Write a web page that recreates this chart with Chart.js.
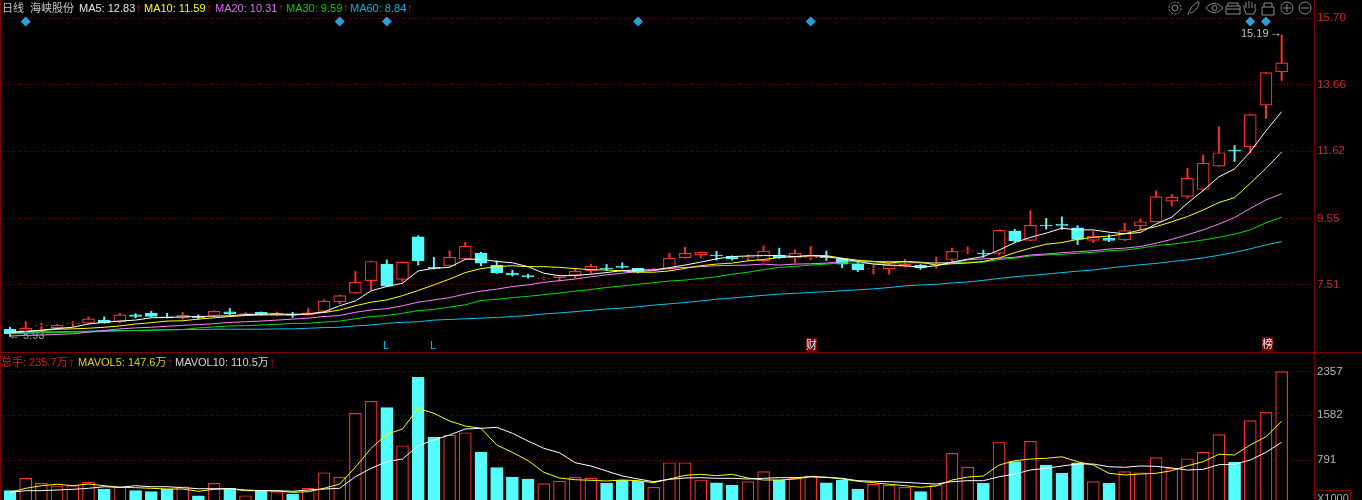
<!DOCTYPE html>
<html>
<head>
<meta charset="utf-8">
<title>海峡股份 日线</title>
<script src="https://cdn.jsdelivr.net/npm/chart.js@4/dist/chart.umd.min.js"></script>
<style>
html,body{margin:0;padding:0;background:#000;overflow:hidden}
#wrap{position:relative;width:1362px;height:500px;background:#000}
canvas{position:absolute;left:0}
.t{position:absolute;white-space:pre;font:11px/14px "Liberation Sans","Noto Sans CJK SC",sans-serif}
.up{position:absolute;left:100%;top:0;margin-left:0;color:#b01010;font-size:14px}
.line{position:absolute;background:#800000}
svg{position:absolute;left:1166px;top:0}
</style>
</head>
<body>
<div id="wrap">
<canvas id="priceChart" width="1362" height="352" style="top:0"></canvas>
<canvas id="volumeChart" width="1362" height="148" style="top:352px"></canvas>
<div class="line" style="left:0;top:0;width:1px;height:500px"></div>
<div class="line" style="left:0;top:352px;width:1362px;height:1px"></div>

<span class="t" style="left:2px;top:1px;color:#c8c8c8">日线  海峡股份</span>
<span class="t" style="left:79px;top:1px;color:#e8e8e8">MA5: 12.83<span class="up">↑</span></span>
<span class="t" style="left:144px;top:1px;color:#ffff00">MA10: 11.59<span class="up">↑</span></span>
<span class="t" style="left:215px;top:1px;color:#e070f0">MA20: 10.31<span class="up">↑</span></span>
<span class="t" style="left:286px;top:1px;color:#00d000">MA30: 9.59<span class="up">↑</span></span>
<span class="t" style="left:350px;top:1px;color:#00b8e0">MA60: 8.84<span class="up">↑</span></span>

<span class="t" style="left:1241px;top:26px;color:#c0c0c0">15.19</span>
<span class="t" style="left:1269px;top:26px;color:#c0c0c0;font-size:13px">→</span>
<span class="t" style="left:9px;top:328px;color:#a0a0a0">← 5.93</span>
<span class="t" style="left:383px;top:338px;color:#00c0f0">L</span>
<span class="t" style="left:430px;top:338px;color:#00c0f0">L</span>
<span class="t" style="left:806px;top:338px;color:#e8e8e8;background:#700000">财</span>
<span class="t" style="left:1262px;top:337px;color:#e8e8e8;background:#700000">榜</span>

<span class="t" style="left:1px;top:355px;color:#d02020">总手: 235.7万<span class="up">↑</span></span>
<span class="t" style="left:78px;top:355px;color:#d8d800">MAVOL5: 147.6万<span class="up">↑</span></span>
<span class="t" style="left:175px;top:355px;color:#d8d8d8">MAVOL10: 110.5万<span class="up">↑</span></span>
<span class="t" style="left:1315px;top:490px;padding:0 1px;border:1px solid #800000;color:#b0b0b0">X1000</span>

<svg width="150" height="18" fill="none" stroke="#8c8c8c" stroke-width="1">
  <circle cx="9" cy="8" r="3"/><circle cx="9" cy="8" r="6" stroke-dasharray="2.5 1.2"/>
  <path d="M22 15 C24 8 28 3 33 2 C33 7 29 12 24 13"/>
  <path d="M40 8 C44 2 52 2 57 8 C52 14 44 14 40 8Z"/><circle cx="48.5" cy="8" r="2.5"/>
  <path d="M60 6H74V14H60ZM62 6V3H72V6M60 9H74"/>
  <path d="M80 14L78 8V5M80 8V2M83 8V1M86 8V2M89 9V4M80 14H88L90 9"/>
  <path d="M96 7H108V15H96ZM98 7V3H106V7"/>
  <circle cx="121" cy="8" r="6"/><path d="M117 8H125M121 4V12"/>
  <circle cx="139" cy="8" r="6"/><path d="M135 8H143"/>
</svg>
</div>

<script>
const open = [
  6.15,6.08,6.26,6.19,6.31,6.34,6.43,6.38,6.59,6.64,
  6.53,6.50,6.52,6.57,6.68,6.59,6.67,6.58,6.62,6.60,
  6.70,6.99,7.26,7.64,8.15,7.68,8.99,8.05,8.10,8.30,
  8.48,8.11,7.87,7.80,7.70,7.73,7.80,7.95,8.03,8.08,
  8.02,7.98,8.00,8.35,8.43,8.43,8.39,8.35,8.25,8.43,
  8.33,8.35,8.37,8.31,8.15,8.00,8.00,8.08,8.12,8.12,
  8.29,8.54,8.49,8.48,9.16,8.88,9.35,9.37,9.26,8.88,
  8.94,8.89,9.32,9.45,10.08,10.23,10.44,11.16,11.65,11.75,
  13.03,14.05];
const close = [
  6.01,6.18,6.28,6.27,6.34,6.47,6.35,6.59,6.54,6.54,
  6.50,6.58,6.50,6.70,6.63,6.63,6.59,6.64,6.58,6.65,
  7.01,7.18,7.59,8.23,7.47,8.21,8.25,8.02,8.36,8.70,
  8.18,7.89,7.82,7.76,7.72,7.79,7.93,8.08,8.00,8.05,
  7.92,8.00,8.33,8.48,8.51,8.40,8.32,8.37,8.55,8.35,
  8.48,8.38,8.35,8.15,7.97,8.02,8.12,8.14,8.04,8.14,
  8.54,8.56,8.46,9.19,8.86,9.34,9.32,9.34,8.91,9.00,
  8.88,9.18,9.45,10.22,10.20,10.78,11.25,11.57,11.62,12.74,
  14.03,14.33];
const high = [
  6.21,6.38,6.34,6.30,6.38,6.53,6.53,6.64,6.63,6.70,
  6.64,6.67,6.59,6.72,6.79,6.67,6.68,6.68,6.67,6.80,
  7.05,7.20,7.92,8.24,8.28,8.22,9.02,8.36,8.56,8.82,
  8.51,8.25,7.96,7.84,7.74,7.80,8.01,8.15,8.14,8.19,
  8.03,8.02,8.48,8.67,8.52,8.54,8.40,8.43,8.71,8.64,
  8.59,8.69,8.55,8.33,8.20,8.12,8.14,8.30,8.14,8.37,
  8.64,8.68,8.58,9.20,9.22,9.79,9.55,9.60,9.33,9.15,
  9.05,9.40,9.53,10.40,10.29,11.09,11.50,12.37,11.79,12.75,
  14.04,15.19];
const low = [
  5.93,6.08,6.13,6.19,6.23,6.31,6.33,6.35,6.50,6.52,
  6.50,6.46,6.46,6.55,6.59,6.57,6.58,6.57,6.51,6.58,
  6.68,6.93,7.25,7.36,7.46,7.60,8.12,8.00,8.08,8.28,
  8.10,7.86,7.78,7.72,7.68,7.63,7.73,7.87,7.95,8.02,
  7.88,7.96,7.98,8.33,8.35,8.27,8.27,8.26,8.22,8.32,
  8.19,8.28,8.26,8.04,7.92,7.85,7.84,8.06,7.99,8.02,
  8.21,8.47,8.36,8.43,8.82,8.87,9.22,9.22,8.75,8.81,
  8.84,8.87,9.18,9.44,9.94,10.17,10.40,11.15,11.30,11.56,
  12.62,13.79];
const ma5 = [
  6.05,6.08,6.12,6.17,6.21,6.31,6.36,6.40,6.43,6.50,
  6.51,6.53,6.54,6.55,6.56,6.60,6.61,6.62,6.60,6.62,
  6.68,6.87,7.02,7.33,7.46,7.56,7.94,8.02,8.05,8.30,
  8.30,8.23,8.19,8.07,7.87,7.79,7.80,7.84,7.89,7.95,
  7.97,7.97,8.04,8.12,8.21,8.31,8.38,8.40,8.41,8.41,
  8.38,8.41,8.38,8.31,8.23,8.15,8.12,8.10,8.05,8.10,
  8.21,8.30,8.38,8.58,8.81,8.97,9.10,9.25,9.20,9.20,
  9.13,9.08,9.12,9.38,9.59,10.02,10.41,10.83,11.07,11.60,
  12.24,12.83];
const ma10 = [
  6.06,6.08,6.11,6.15,6.16,6.18,6.21,6.25,6.31,6.35,
  6.40,6.41,6.46,6.50,6.54,6.57,6.59,6.59,6.59,6.62,
  6.66,6.74,6.87,6.98,7.05,7.18,7.34,7.51,7.69,7.89,
  8.01,8.07,8.10,8.07,8.07,8.05,8.01,7.98,7.97,7.94,
  7.90,7.90,7.94,8.02,8.10,8.15,8.18,8.25,8.29,8.35,
  8.38,8.41,8.41,8.33,8.27,8.23,8.18,8.23,8.21,8.12,
  8.16,8.18,8.23,8.34,8.50,8.64,8.76,8.81,8.91,8.97,
  9.01,9.08,9.20,9.30,9.45,9.61,9.81,10.04,10.19,10.63,
  11.09,11.59];
const ma20 = [
  5.94,5.96,5.97,5.99,6.01,6.06,6.11,6.16,6.19,6.21,
  6.24,6.27,6.29,6.32,6.36,6.38,6.40,6.43,6.46,6.49,
  6.54,6.57,6.67,6.74,6.78,6.87,6.98,7.05,7.12,7.23,
  7.32,7.38,7.46,7.51,7.59,7.64,7.69,7.76,7.82,7.87,
  7.92,7.95,8.02,8.05,8.07,8.10,8.11,8.12,8.15,8.12,
  8.15,8.16,8.18,8.23,8.25,8.23,8.23,8.23,8.19,8.18,
  8.19,8.28,8.31,8.33,8.36,8.43,8.46,8.50,8.53,8.56,
  8.61,8.64,8.69,8.79,8.91,9.05,9.20,9.38,9.58,9.86,
  10.12,10.31];
const ma30 = [
  6.01,6.02,6.04,6.05,6.06,6.07,6.08,6.10,6.11,6.12,
  6.13,6.14,6.19,6.22,6.25,6.26,6.28,6.30,6.33,6.33,
  6.37,6.40,6.47,6.54,6.57,6.64,6.72,6.76,6.83,6.90,
  7.03,7.07,7.12,7.16,7.21,7.26,7.32,7.37,7.43,7.48,
  7.53,7.58,7.63,7.66,7.71,7.76,7.84,7.90,7.98,8.05,
  8.08,8.12,8.15,8.18,8.18,8.18,8.18,8.19,8.19,8.19,
  8.19,8.21,8.21,8.29,8.33,8.40,8.43,8.45,8.48,8.51,
  8.56,8.58,8.64,8.72,8.76,8.82,8.89,8.97,9.07,9.20,
  9.42,9.59];
const ma60 = [
  6.05,6.05,6.07,6.07,6.08,6.09,6.10,6.11,6.11,6.12,
  6.13,6.14,6.14,6.15,6.15,6.15,6.15,6.16,6.16,6.18,
  6.20,6.21,6.25,6.28,6.33,6.36,6.38,6.43,6.45,6.47,
  6.49,6.51,6.54,6.57,6.62,6.65,6.69,6.73,6.77,6.80,
  6.84,6.89,6.93,6.97,7.02,7.07,7.11,7.15,7.19,7.23,
  7.25,7.28,7.30,7.33,7.36,7.39,7.43,7.48,7.51,7.53,
  7.57,7.60,7.65,7.71,7.76,7.80,7.84,7.89,7.93,7.97,
  8.03,8.08,8.13,8.17,8.23,8.28,8.34,8.42,8.51,8.62,
  8.74,8.84];
const volume = [
  248,467,379,331,336,396,278,318,248,230,
  272,318,159,379,290,159,248,230,184,290,
  566,485,1618,1830,1717,1044,2255,1193,1233,1274,
  927,655,490,455,372,419,485,472,379,437,
  414,308,743,743,437,389,343,407,584,437,
  467,513,389,437,272,361,343,308,230,349,
  910,667,379,1110,761,1122,702,555,743,407,
  379,584,566,832,644,814,927,1239,750,1487,
  1635,2357];
const mavol5 = [
  219,290,336,361,336,366,336,308,301,290,
  278,278,237,272,283,248,248,242,219,230,
  290,366,662,998,1246,1340,1706,1618,1481,1393,
  1352,1057,927,779,573,472,442,432,419,437,
  425,389,455,520,538,513,538,472,437,437,
  455,495,485,455,414,389,361,336,308,331,
  437,490,508,702,779,809,821,849,761,702,
  556,526,543,556,602,690,761,892,880,1057,
  1203,1476];
const mavol10 = [
  219,248,248,260,272,290,318,308,336,318,
  318,301,283,283,283,260,248,248,237,260,
  278,290,495,644,761,809,1044,1145,1233,1340,
  1352,1370,1264,1127,998,920,743,685,596,508,
  455,407,449,472,478,467,467,455,467,478,
  478,495,485,467,425,414,407,396,379,366,
  407,425,425,495,543,614,644,685,720,720,
  672,662,685,679,649,614,626,708,715,791,
  927,1105];
const priceTicks = [15.70,13.66,11.62,9.55,7.51];
const volumeTicks = [2357,1582,791];
const markerDays = [1,21,24,40,51,79,80];

const days = open.map((_, i) => i);
const RED = '#f83030';
const CYAN = '#54fcfc';
const isUp = days.map(i => close[i] >= open[i]);
const upOrDown = (up, down) => days.map(i => isUp[i] ? up : down);

const lineSet = (values, color, order) => ({
  type: 'line',
  data: days.map(i => ({ x: i, y: values[i] })),
  borderColor: color,
  borderWidth: 1,
  pointRadius: 0,
  tension: 0,
  order: order
});

// same x window on both panels so bars and lines stay aligned
const xScale = { type: 'linear', display: false, offset: false, min: -0.637, max: 83.06 };

const yScale = (min, max, tickList, color, format) => ({
  position: 'right',
  min: min,
  max: max,
  afterBuildTicks: scale => { scale.ticks = tickList.map(v => ({ value: v })); },
  afterFit: scale => {
    scale.width = 48;
    // no margin for the tick labels, the panel has to fill its canvas
    scale.paddingTop = 0;
    scale.paddingBottom = 0;
  },
  grid: { color: '#700000', drawTicks: false, lineWidth: 1 },
  border: { color: '#800000', dash: [1, 2] },
  ticks: { color: color, padding: 3, font: { family: 'Liberation Sans', size: 11.5 }, callback: format }
});

const baseOptions = {
  responsive: false,
  animation: false,
  layout: { padding: 0, autoPadding: false },
  plugins: { legend: { display: false }, tooltip: { enabled: false } }
};

new Chart(document.getElementById('priceChart'), {
  type: 'bar',
  data: {
    datasets: [
      lineSet(ma5, '#ffffff', 1),
      lineSet(ma10, '#ffff00', 2),
      lineSet(ma20, '#ff80ff', 3),
      lineSet(ma30, '#00e000', 4),
      lineSet(ma60, '#00c8f0', 5),
      {
        type: 'scatter',
        data: markerDays.map(i => ({ x: i, y: 15.6 })),
        pointStyle: 'rectRot',
        pointRadius: 5,
        backgroundColor: '#2a9fd6',
        borderWidth: 0,
        order: 6
      },
      {
        data: days.map(i => ({ x: i, y: [open[i], close[i]] })),
        grouped: false,
        barThickness: 12,
        backgroundColor: upOrDown('#000000', CYAN),
        borderColor: upOrDown(RED, CYAN),
        borderWidth: 1.2,
        borderSkipped: false,
        order: 7
      },
      {
        data: days.map(i => ({ x: i, y: [low[i], high[i]] })),
        grouped: false,
        barThickness: 1.3,
        backgroundColor: upOrDown(RED, CYAN),
        order: 8
      }
    ]
  },
  options: Object.assign({}, baseOptions, {
    scales: {
      x: xScale,
      y: yScale(5.45, 16.26, priceTicks, '#d02828', v => v.toFixed(2))
    }
  })
});

new Chart(document.getElementById('volumeChart'), {
  type: 'bar',
  data: {
    datasets: [
      lineSet(mavol10, '#ffffff', 1),
      lineSet(mavol5, '#ffff00', 2),
      {
        data: days.map(i => ({ x: i, y: volume[i] })),
        grouped: false,
        barThickness: 12,
        backgroundColor: upOrDown('#000000', CYAN),
        borderColor: upOrDown(RED, CYAN),
        borderWidth: 1.2,
        order: 3
      }
    ]
  },
  options: Object.assign({}, baseOptions, {
    scales: {
      x: xScale,
      y: yScale(83, 2703, volumeTicks, '#b8b8b8', v => String(v))
    }
  })
});
</script>
</body>
</html>
